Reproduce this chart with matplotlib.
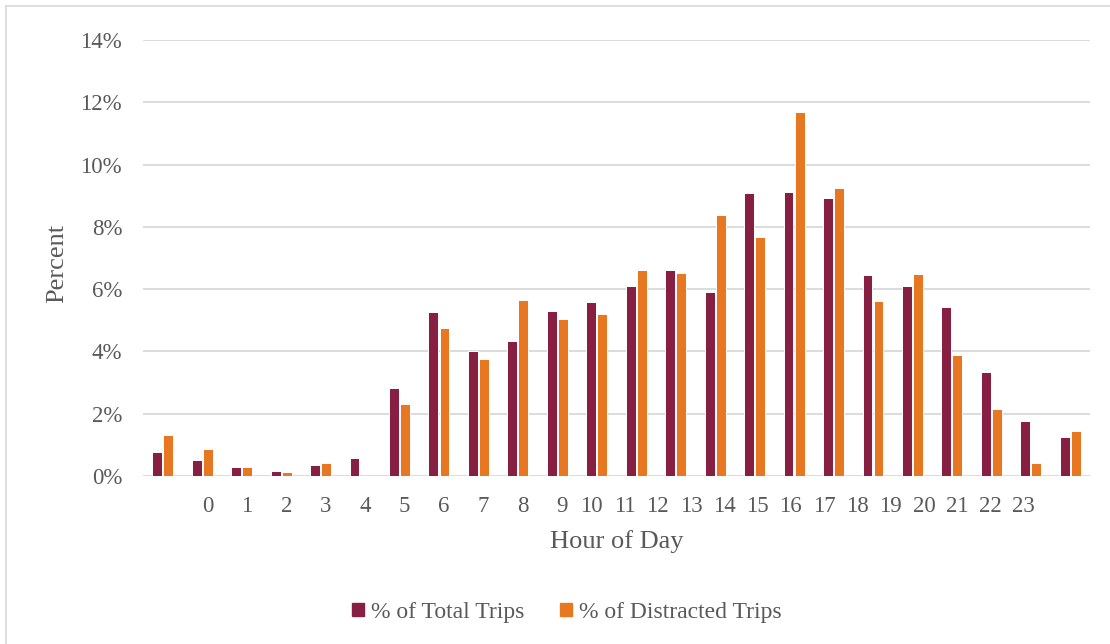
import matplotlib
matplotlib.use('Agg')
import matplotlib.pyplot as plt
import matplotlib.patches as mpatches
from matplotlib.lines import Line2D
import numpy as np

plt.rcParams['font.family'] = ['Liberation Serif', 'DejaVu Serif']

# data (percent), 24 bar groups
total_trips = [0.76, 0.51, 0.29, 0.15, 0.34, 0.57, 2.82, 5.26, 4.01, 4.33, 5.29, 5.58,
               6.09, 6.60, 5.90, 9.09, 9.11, 8.92, 6.45, 6.09, 5.42, 3.35, 1.78, 1.24]
distracted_trips = [1.31, 0.86, 0.29, 0.14, 0.43, 0.0, 2.32, 4.76, 3.76, 5.64, 5.05, 5.20,
                    6.63, 6.51, 8.38, 7.66, 11.70, 9.25, 5.63, 6.50, 3.89, 2.15, 0.41, 1.44]
hour_labels = [str(h) for h in range(24)]
y_ticks = [0, 2, 4, 6, 8, 10, 12, 14]
series_names = ['% of Total Trips', '% of Distracted Trips']

# layout: the hour labels do not sit under the bar groups in the original
label_pos = [1.13 + k for k in range(10)] + [10.86 + 0.843 * k for k in range(14)]

purple = '#861F41'
orange = '#E87722'
grey_txt = '#595959'
grid_c = '#d9d9d9'

fig = plt.figure(figsize=(11.10, 6.44), dpi=100)
ax = fig.add_axes([143/1110, 1-476/644, (1090-143)/1110, (476-40)/644])

x = np.arange(len(total_trips))
w = 0.25
ax.bar(x - 0.14, total_trips, w, color=purple, edgecolor='white', linewidth=0.7, zorder=3)
ax.bar(x + 0.14, distracted_trips, w, color=orange, edgecolor='white', linewidth=0.7, zorder=3)

ax.set_xlim(-0.5, len(total_trips) - 0.5)
ax.set_ylim(0, 14)
ax.set_yticks(y_ticks)
ax.set_yticklabels([f'{t}%' for t in y_ticks])
ax.yaxis.grid(True, color=grid_c, linewidth=1.3, zorder=0)
ax.set_axisbelow(True)
ax.set_xticks(label_pos)
ax.set_xticklabels(hour_labels)
for s in ax.spines.values():
    s.set_visible(False)
ax.tick_params(axis='both', length=0, labelsize=16.5, colors=grey_txt)
ax.tick_params(axis='y', pad=15)
ax.tick_params(axis='x', pad=14.5)

fig.text(616.7/1110, 1-541.7/644, 'Hour of Day', ha='center', va='center',
         fontsize=19, color=grey_txt)
fig.text(57/1110, 1-263/644, 'Percent', ha='center', va='center', rotation=90,
         fontsize=19, color=grey_txt)

handles = [mpatches.Patch(color=purple, label=series_names[0]),
           mpatches.Patch(color=orange, label=series_names[1])]
leg = fig.legend(handles=handles, loc='center', bbox_to_anchor=(567/1110, 1-612.5/644),
                 ncol=2, frameon=False, fontsize=17, handlelength=0.5, handleheight=0.5,
                 handletextpad=0.3, columnspacing=1.5, labelcolor=grey_txt)

# chart area border (left and top only visible)
fig.add_artist(Line2D([6/1110, 6/1110], [0, 1-6/644], color=grid_c, linewidth=1.2))
fig.add_artist(Line2D([6/1110, 1], [1-6/644, 1-6/644], color=grid_c, linewidth=1.2))

fig.savefig('out.png', dpi=100)
